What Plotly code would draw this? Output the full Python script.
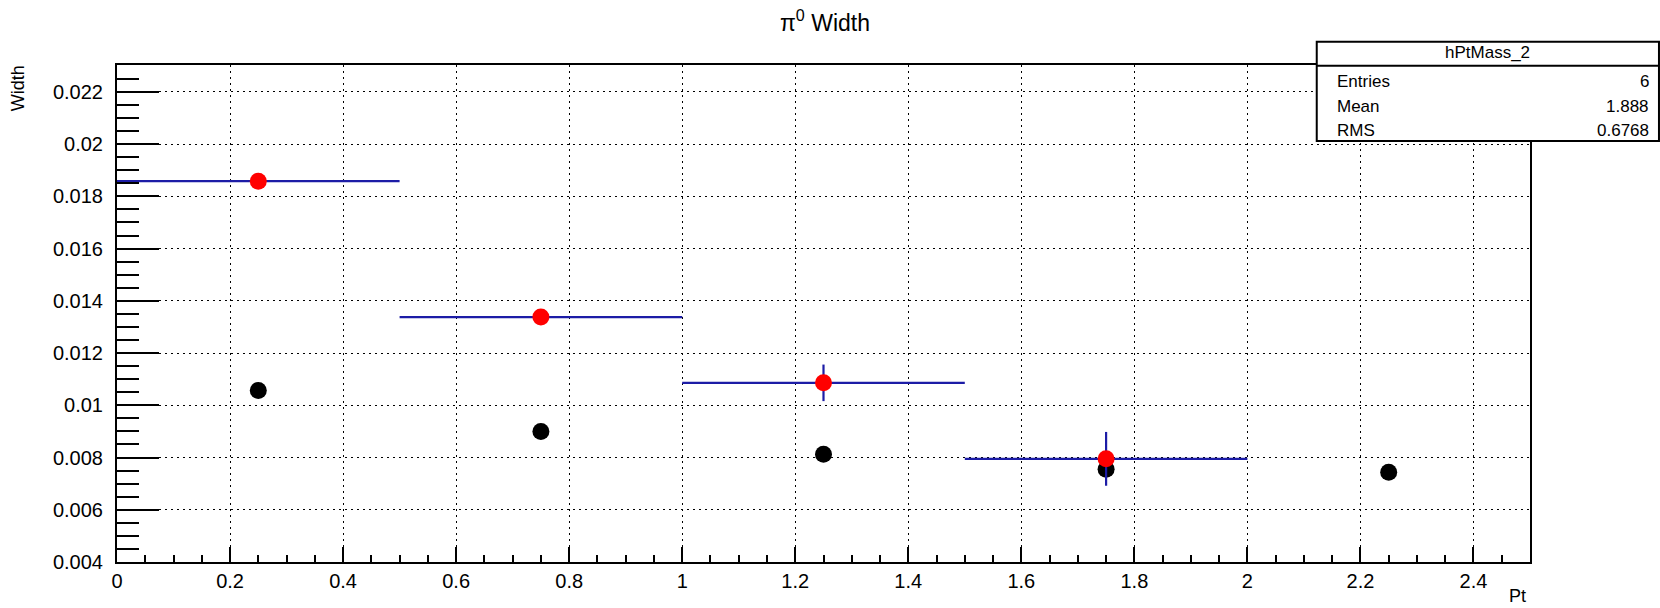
import plotly.graph_objects as go

# ---------------- data ----------------
pt_centers = [0.25, 0.75, 1.25, 1.75]
pt_halfwidth = [0.25, 0.25, 0.25, 0.25]
width_fit = [0.01858, 0.01338, 0.01086, 0.00795]
width_fit_err = [0.0002, 0.0002, 0.0007, 0.00103]

pt_black = [0.25, 0.75, 1.25, 1.75, 2.25]
width_black = [0.01057, 0.00900, 0.00813, 0.00755, 0.00744]

x_tickvals = [0, 0.2, 0.4, 0.6, 0.8, 1.0, 1.2, 1.4, 1.6, 1.8, 2.0, 2.2, 2.4]
x_ticktext = ["0", "0.2", "0.4", "0.6", "0.8", "1", "1.2", "1.4", "1.6", "1.8", "2", "2.2", "2.4"]
y_tickvals = [0.004, 0.006, 0.008, 0.010, 0.012, 0.014, 0.016, 0.018, 0.020, 0.022]
y_ticktext = ["0.004", "0.006", "0.008", "0.01", "0.012", "0.014", "0.016", "0.018", "0.02", "0.022"]

stats_name = "hPtMass_2"
stats_labels = ["Entries", "Mean", "RMS"]
stats_values = ["6", "1.888", "0.6768"]

# ---------------- layout geometry ----------------
W, H = 1660, 608
L, R, T, B = 116.7, 1530.0, 65.0, 561.7
FONT = "Liberation Sans, Arial, Helvetica, sans-serif"
BLUE = "#1c1ca6"


def px_x(x):
    return (x - L) / (R - L)


def px_y(y):
    return (B - y) / (B - T)


fig = go.Figure()

fig.add_trace(go.Scatter(
    x=pt_black, y=width_black, mode="markers",
    marker=dict(color="black", size=17, symbol="circle"),
    showlegend=False, hoverinfo="skip",
))

fig.add_trace(go.Scatter(
    x=pt_centers, y=width_fit, mode="markers",
    marker=dict(color="#ff0000", size=17, symbol="circle"),
    error_x=dict(type="data", array=pt_halfwidth, color=BLUE, thickness=2.2, width=0),
    error_y=dict(type="data", array=width_fit_err, color=BLUE, thickness=2.2, width=0),
    showlegend=False, hoverinfo="skip",
))

axis_common = dict(
    showline=True, linecolor="black", linewidth=2, mirror=True,
    ticks="inside", tickcolor="black", tickwidth=2,
    showgrid=True, gridcolor="black", gridwidth=1.2, griddash="2px,4px",
    zeroline=False, tickfont=dict(family=FONT, size=20, color="black"),
    tickmode="array",
)

fig.update_xaxes(
    range=[0, 2.5], tickvals=x_tickvals, ticktext=x_ticktext, ticklen=15,
    minor=dict(dtick=0.05, tick0=0, ticks="inside", ticklen=7, tickwidth=2,
               tickcolor="black", showgrid=False),
    **axis_common,
)
fig.update_yaxes(
    range=[0.004, 0.02303], tickvals=y_tickvals, ticktext=y_ticktext, ticklen=42,
    ticklabelstandoff=8,
    minor=dict(dtick=0.0005, tick0=0.004, ticks="inside", ticklen=22, tickwidth=2,
               tickcolor="black", showgrid=False),
    **axis_common,
)

shapes = [
    dict(type="rect", xref="paper", yref="paper",
         x0=px_x(1316.7), x1=px_x(1659), y0=px_y(141), y1=px_y(41.7),
         line=dict(color="black", width=2), fillcolor="white", layer="above"),
    dict(type="line", xref="paper", yref="paper",
         x0=px_x(1316.7), x1=px_x(1659), y0=px_y(65.7), y1=px_y(65.7),
         line=dict(color="black", width=2), layer="above"),
]

annotations = [
    dict(text="Width", xref="paper", yref="paper", x=px_x(18), y=px_y(88),
         textangle=-90, showarrow=False, xanchor="center", yanchor="middle",
         font=dict(family=FONT, size=18, color="black")),
    dict(text="Pt", xref="paper", yref="paper", x=px_x(1528), y=px_y(596),
         showarrow=False, xanchor="right", yanchor="middle",
         font=dict(family=FONT, size=18, color="black")),
    dict(text=stats_name, xref="paper", yref="paper", x=px_x((1316.7 + 1659) / 2), y=px_y(53),
         showarrow=False, xanchor="center", yanchor="middle",
         font=dict(family=FONT, size=17, color="black")),
]
row_y = [81, 106, 130]
for lab, val, yy in zip(stats_labels, stats_values, row_y):
    annotations.append(dict(text=lab, xref="paper", yref="paper", x=px_x(1335), y=px_y(yy),
                            showarrow=False, xanchor="left", yanchor="middle",
                            font=dict(family=FONT, size=17, color="black")))
    annotations.append(dict(text=val, xref="paper", yref="paper", x=px_x(1651), y=px_y(yy),
                            showarrow=False, xanchor="right", yanchor="middle",
                            font=dict(family=FONT, size=17, color="black")))

fig.update_layout(
    width=W, height=H,
    margin=dict(l=L, r=W - R, t=T, b=H - B, pad=0),
    paper_bgcolor="white", plot_bgcolor="white",
    title=dict(text="π<sup>0</sup> Width", x=825 / W, xanchor="center",
               y=1 - 23 / H, yanchor="middle", yref="container",
               font=dict(family=FONT, size=23, color="black")),
    shapes=shapes, annotations=annotations,
)

fig.write_html(
    "out.html",
    config={"displayModeBar": False},
    post_script="document.body.style.margin='0';document.body.style.overflow='hidden';",
)
